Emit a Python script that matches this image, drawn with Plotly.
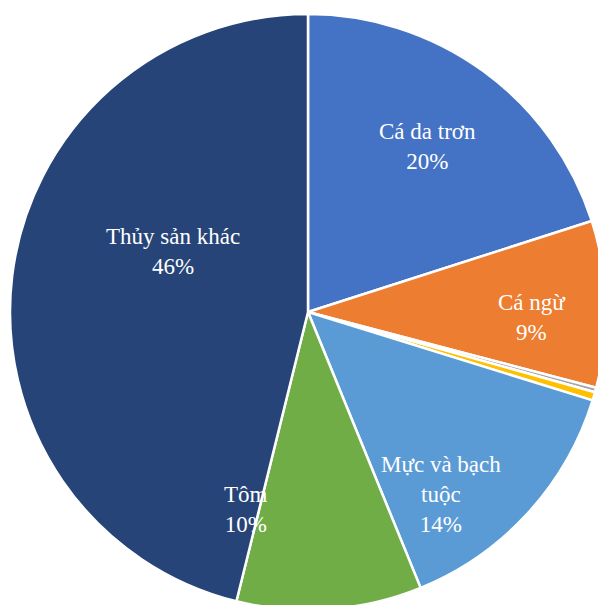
import plotly.graph_objects as go

# Seafood export structure by product group (share, %)
categories = ["Cá da trơn", "Cá ngừ", "Cua ghẹ", "Nhuyễn thể hai mảnh vỏ",
              "Mực và bạch tuộc", "Tôm", "Thủy sản khác"]
shares = [20, 9, 0.25, 0.45, 14, 10, 46]
colors = ["#4472C4", "#ED7D31", "#A5A5A5", "#FFC000",
          "#5B9BD5", "#70AD47", "#264478"]

# Label text shown on the large slices (small slices carry no label)
label_lines = {
    "Cá da trơn": "Cá da trơn",
    "Cá ngừ": "Cá ngừ",
    "Mực và bạch tuộc": "Mực và bạch<br>tuộc",
    "Tôm": "Tôm",
    "Thủy sản khác": "Thủy sản khác",
}
# Label anchor points in paper coordinates
label_pos = {
    "Cá da trơn": (0.701, 0.777),
    "Cá ngừ": (0.876, 0.490),
    "Mực và bạch tuộc": (0.723, 0.194),
    "Tôm": (0.396, 0.168),
    "Thủy sản khác": (0.273, 0.601),
}

fig = go.Figure(
    go.Pie(
        labels=categories,
        values=shares,
        sort=False,
        direction="clockwise",
        rotation=0,
        marker=dict(colors=colors, line=dict(color="white", width=2.5)),
        textinfo="none",
        hoverinfo="label+percent",
        showlegend=False,
    )
)

for name, value in zip(categories, shares):
    if name not in label_lines:
        continue
    x, y = label_pos[name]
    fig.add_annotation(
        x=x, y=y, xref="paper", yref="paper",
        text=f"{label_lines[name]}<br>{value:g}%",
        showarrow=False,
        xanchor="center", yanchor="middle",
        align="center",
        font=dict(family="Liberation Serif, Times New Roman, serif",
                  size=23, color="white"),
    )

fig.update_layout(
    width=616,
    height=624,
    margin=dict(l=10, r=10, t=14, b=14),
    paper_bgcolor="white",
    plot_bgcolor="white",
)

fig.write_html(
    "out.html",
    post_script="document.body.style.margin='0';document.body.style.overflow='hidden';"
                "document.documentElement.style.overflow='hidden';",
)
